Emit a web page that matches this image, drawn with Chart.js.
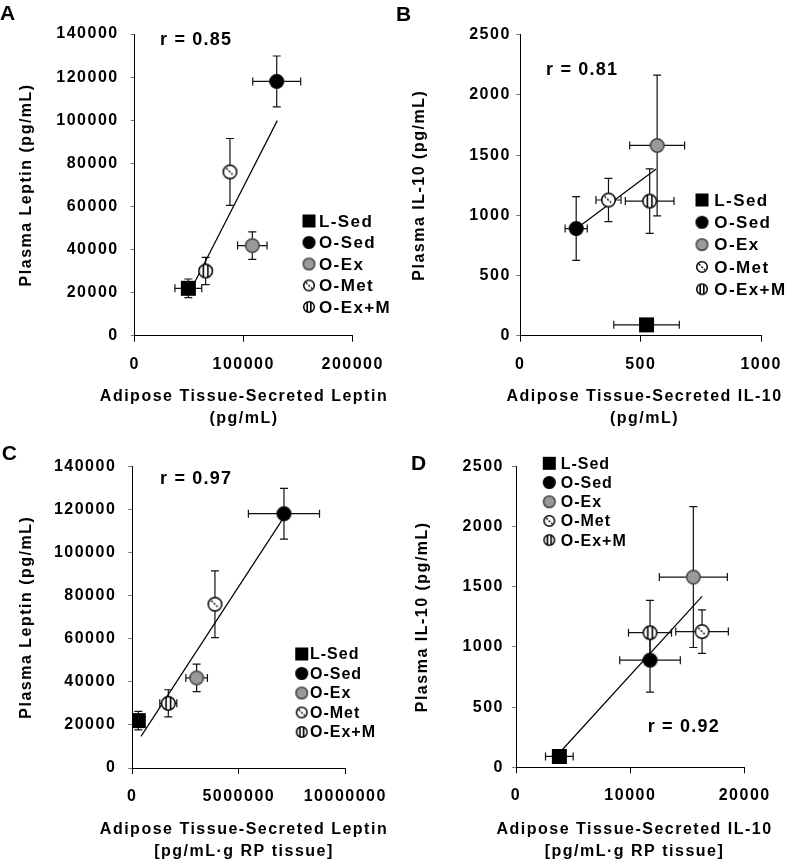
<!DOCTYPE html>
<html>
<head>
<meta charset="utf-8">
<title>Plasma vs adipose tissue-secreted leptin and IL-10</title>
<script src="https://cdn.jsdelivr.net/npm/chart.js@4.4.1/dist/chart.umd.min.js"></script>
<style>
  body { margin: 0; background: #fff; }
  #wrap { position: relative; width: 792px; height: 866px; }
  #wrap canvas { position: absolute; }
</style>
</head>
<body>
<div id="wrap">
  <canvas id="panelA" width="396" height="433" style="left:0;top:0"></canvas>
  <canvas id="panelB" width="396" height="433" style="left:396px;top:0"></canvas>
  <canvas id="panelC" width="396" height="433" style="left:0;top:433px"></canvas>
  <canvas id="panelD" width="396" height="433" style="left:396px;top:433px"></canvas>
</div>
<script>
const groups = ['L-Sed', 'O-Sed', 'O-Ex', 'O-Met', 'O-Ex+M'];
const markerKinds = ['square', 'solid', 'gray', 'dash', 'stripe'];

// plasma values (shared by A/C and B/D)
const plasmaLeptin = [22000, 118000, 41800, 76000, 30000];
const plasmaLeptinErr = [4300, 11800, 6400, 15500, 6300];
const plasmaIL10 = [90, 890, 1580, 1127, 1118];
const plasmaIL10Err = [0, 265, 585, 180, 268];

// A: secreted leptin (pg/mL)
const leptinSec = [49200, 130300, 107900, 87400, 65100];
const leptinSecErr = [12300, 22000, 13500, 0, 5500];
const trendAX = [49200, 130800];
const trendAY = [19000, 99800];

// B: secreted IL-10 (pg/mL)
const il10Sec = [524, 232, 568, 366, 537];
const il10SecErr = [136, 46, 114, 52, 101];
const trendBX = [232, 564];
const trendBY = [889, 1385];

// C: secreted leptin per g RP tissue
const leptinPerG = [282000, 7120000, 3020000, 3880000, 1690000];
const leptinPerGErr = [150000, 1670000, 507000, 0, 400000];
const trendCX = [408000, 7120000];
const trendCY = [14700, 116400];

// D: secreted IL-10 per g RP tissue
const il10PerG = [3790, 11720, 15510, 16270, 11720];
const il10PerGErr = [1210, 2650, 2975, 2300, 1880];
const trendDX = [3790, 16270];
const trendDY = [119, 1420];

const FONT = "'Liberation Sans', Arial, sans-serif";

function makeMarker(kind, d) {
    const c = document.createElement('canvas');
    c.width = c.height = d + 4;
    const g = c.getContext('2d');
    const m = c.width / 2, r = d / 2;
    if (kind === 'square') {
        g.fillStyle = '#000';
        g.fillRect(m - r, m - r, d, d);
        return c;
    }
    g.beginPath();
    g.arc(m, m, r - 0.7, 0, Math.PI * 2);
    g.fillStyle = kind === 'solid' ? '#000' : kind === 'gray' ? '#9a9a9a' : '#fff';
    g.fill();
    g.lineWidth = 1.5;
    g.strokeStyle = kind === 'gray' ? '#444' : '#000';
    g.stroke();
    if (kind === 'dash') {
        g.setLineDash([2, 1.5]);
        g.lineWidth = 1.4;
        g.beginPath();
        g.moveTo(m - r * 0.5, m - r * 0.5);
        g.lineTo(m + r * 0.5, m + r * 0.5);
        g.stroke();
    }
    if (kind === 'stripe') {
        g.save();
        g.clip();
        g.lineWidth = 1.6;
        g.beginPath();
        [-0.3, 0.3].forEach(f => {
            g.moveTo(m + r * f, m - r);
            g.lineTo(m + r * f, m + r);
        });
        g.stroke();
        g.restore();
    }
    return c;
}

const pointImgs = markerKinds.map(k => makeMarker(k, 15));
const legendImgs = markerKinds.map(k => makeMarker(k, k === 'dash' || k === 'stripe' ? 12 : 13));

// error bars, legend, x title, panel letter and r label
function decor(cfg) {
    return {
        id: 'decor',
        beforeDraw(chart) {
            chart.ctx.letterSpacing = '1.5px';
        },
        beforeDatasetsDraw(chart) {
            const { ctx, scales: { x, y } } = chart;
            ctx.save();
            ctx.strokeStyle = '#111';
            ctx.lineWidth = 1.2;
            chart.data.datasets.forEach(ds => {
                if (!ds.errX) return;
                ds.data.forEach((p, i) => {
                    const px = x.getPixelForValue(p.x);
                    const py = y.getPixelForValue(p.y);
                    const ex = ds.errX[i], ey = ds.errY[i];
                    ctx.beginPath();
                    if (ex > 0) {
                        const x1 = x.getPixelForValue(p.x - ex);
                        const x2 = x.getPixelForValue(p.x + ex);
                        ctx.moveTo(x1, py); ctx.lineTo(x2, py);
                        ctx.moveTo(x1, py - 4); ctx.lineTo(x1, py + 4);
                        ctx.moveTo(x2, py - 4); ctx.lineTo(x2, py + 4);
                    }
                    if (ey > 0) {
                        const y1 = y.getPixelForValue(p.y - ey);
                        const y2 = y.getPixelForValue(p.y + ey);
                        ctx.moveTo(px, y1); ctx.lineTo(px, y2);
                        ctx.moveTo(px - 4, y1); ctx.lineTo(px + 4, y1);
                        ctx.moveTo(px - 4, y2); ctx.lineTo(px + 4, y2);
                    }
                    ctx.stroke();
                });
            });
            ctx.restore();
        },
        afterDatasetsDraw(chart) {
            const ctx = chart.ctx;
            ctx.save();
            ctx.fillStyle = '#000';

            // x axis title (drawn here so it is not squeezed to the plot width)
            ctx.letterSpacing = '1.5px';
            ctx.font = 'bold 16px ' + FONT;
            ctx.textAlign = 'center';
            ctx.textBaseline = 'middle';
            cfg.xTitle.forEach((line, i) => ctx.fillText(line, cfg.xTitleX, 396.7 + i * 21.7));

            ctx.textAlign = 'left';
            ctx.letterSpacing = '0px';
            ctx.font = 'bold 21px ' + FONT;
            ctx.textBaseline = 'alphabetic';
            ctx.fillText(cfg.letter, cfg.letterX, cfg.letterY);

            ctx.letterSpacing = '1.2px';
            ctx.font = 'bold 18px ' + FONT;
            ctx.fillText(cfg.r, cfg.rX, cfg.rY);

            const lg = cfg.legend;
            ctx.letterSpacing = lg.spacing;
            ctx.font = 'bold ' + lg.size + 'px ' + FONT;
            ctx.textBaseline = 'middle';
            groups.forEach((name, i) => {
                const yy = lg.y0 + i * lg.dy;
                const img = legendImgs[i];
                ctx.drawImage(img, lg.mx - img.width / 2, yy - img.height / 2);
                ctx.fillText(name, lg.tx, yy + 1);
            });
            ctx.restore();
        }
    };
}

function makePanel(id, xs, xErr, ys, yErr, trendX, trendY, opt) {
    const datasets = groups.map((name, i) => ({
        label: name,
        data: [{ x: xs[i], y: ys[i] }],
        errX: [xErr[i]],
        errY: [yErr[i]],
        pointStyle: pointImgs[i],
        pointRadius: 7,
        order: 0,
    }));
    datasets.push({
        label: 'trend',
        data: trendX.map((v, i) => ({ x: v, y: trendY[i] })),
        showLine: true,
        pointRadius: 0,
        borderColor: '#000',
        borderWidth: 1.2,
        order: 10,
    });

    const a = opt.area;
    const tickFont = { family: FONT, size: 16, weight: 'bold' };

    return new Chart(document.getElementById(id), {
        type: 'scatter',
        data: { datasets },
        options: {
            responsive: false,
            animation: false,
            devicePixelRatio: 1,
            layout: { padding: { left: 0, top: a.t, right: 396 - a.r, bottom: 0 } },
            plugins: {
                legend: { display: false },
                tooltip: { enabled: false },
            },
            scales: {
                x: {
                    type: 'linear',
                    min: 0,
                    max: opt.xMax,
                    ticks: {
                        stepSize: opt.xMax / 2,
                        color: '#000',
                        font: tickFont,
                        padding: 13,
                        maxRotation: 0,
                        callback: v => String(v),
                    },
                    grid: { drawOnChartArea: false, tickLength: 6, color: '#000' },
                    border: { color: '#000', width: 1 },
                    title: { display: false },
                    afterFit(s) { s.height = 433 - a.b; },
                },
                y: {
                    type: 'linear',
                    min: 0,
                    max: opt.yMax,
                    ticks: {
                        stepSize: opt.yStep,
                        color: '#000',
                        font: tickFont,
                        padding: opt.yTickPad,
                        callback: v => String(v),
                    },
                    grid: { drawOnChartArea: false, tickLength: 4, color: '#777' },
                    border: { color: '#000', width: 1 },
                    title: {
                        display: true,
                        text: opt.yTitle,
                        color: '#000',
                        font: { family: FONT, size: 16, weight: 'bold' },
                        padding: { top: opt.yTitlePad, bottom: 0 },
                    },
                    afterFit(s) { s.width = a.l; },
                },
            },
        },
        plugins: [decor(opt.decor)],
    });
}

makePanel('panelA', leptinSec, leptinSecErr, plasmaLeptin, plasmaLeptinErr, trendAX, trendAY, {
    area: { l: 134.7, r: 352.7, t: 34, b: 335.7 },
    xMax: 200000, yMax: 140000, yStep: 20000, yTickPad: 12, yTitlePad: 17,
    yTitle: 'Plasma Leptin (pg/mL)',
    decor: {
        xTitle: ['Adipose Tissue-Secreted Leptin', '(pg/mL)'], xTitleX: 244,
        letter: 'A', letterX: 0, letterY: 20, r: 'r = 0.85', rX: 160, rY: 45,
        legend: { mx: 309, tx: 319, y0: 221, dy: 21.5, size: 17, spacing: '1.4px' },
    },
});

makePanel('panelB', il10Sec, il10SecErr, plasmaIL10, plasmaIL10Err, trendBX, trendBY, {
    area: { l: 124.3, r: 366, t: 34.7, b: 335.7 },
    xMax: 1000, yMax: 2500, yStep: 500, yTickPad: 5.5, yTitlePad: 13.7,
    yTitle: 'Plasma IL-10 (pg/mL)',
    decor: {
        xTitle: ['Adipose Tissue-Secreted IL-10', '(pg/mL)'], xTitleX: 248.5,
        letter: 'B', letterX: 0, letterY: 20.7, r: 'r = 0.81', rX: 150, rY: 75,
        legend: { mx: 306, tx: 318.3, y0: 200, dy: 22.3, size: 17, spacing: '1.4px' },
    },
});

makePanel('panelC', leptinPerG, leptinPerGErr, plasmaLeptin, plasmaLeptinErr, trendCX, trendCY, {
    area: { l: 132.3, r: 345.3, t: 33.3, b: 335 },
    xMax: 10000000, yMax: 140000, yStep: 20000, yTickPad: 12, yTitlePad: 17,
    yTitle: 'Plasma Leptin (pg/mL)',
    decor: {
        xTitle: ['Adipose Tissue-Secreted Leptin', '[pg/mL\u00b7g RP tissue]'], xTitleX: 244,
        letter: 'C', letterX: 1.7, letterY: 26.7, r: 'r = 0.97', rX: 160, rY: 50.7,
        legend: { mx: 301.7, tx: 310, y0: 221, dy: 19.5, size: 16, spacing: '1px' },
    },
});

makePanel('panelD', il10PerG, il10PerGErr, plasmaIL10, plasmaIL10Err, trendDX, trendDY, {
    area: { l: 120, r: 348.7, t: 33.3, b: 334.3 },
    xMax: 20000, yMax: 2500, yStep: 500, yTickPad: 8, yTitlePad: 17,
    yTitle: 'Plasma IL-10 (pg/mL)',
    decor: {
        xTitle: ['Adipose Tissue-Secreted IL-10', '[pg/mL\u00b7g RP tissue]'], xTitleX: 238.5,
        letter: 'D', letterX: 15, letterY: 37, r: 'r = 0.92', rX: 251.7, rY: 299,
        legend: { mx: 153.3, tx: 164.7, y0: 30.3, dy: 19.2, size: 16, spacing: '1px' },
    },
});
</script>
</body>
</html>
